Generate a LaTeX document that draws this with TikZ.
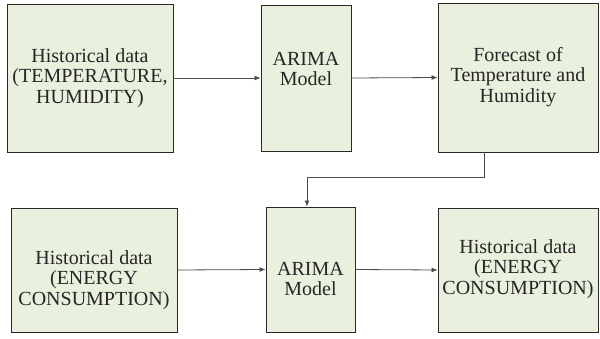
\documentclass[tikz,border=0pt]{standalone}
\usepackage{fontspec}
\setmainfont{Liberation Serif}
\newfontfamily\boxfont{Liberation Serif}
\usetikzlibrary{arrows.meta}
\definecolor{boxfill}{RGB}{233,240,222}
\definecolor{edge}{RGB}{40,40,40}
\begin{document}
\begin{tikzpicture}[x=1pt,y=-1pt,
  box/.style={draw=edge,line width=0.9pt,fill=boxfill,inner sep=0pt},
  lbl/.style={align=center,inner sep=0pt,
    font=\boxfont\fontsize{20}{20.5}\selectfont,text=black!85},
  conn/.style={draw=black!70,line width=0.8pt,-{Latex[length=6pt,width=5pt]}}]
\useasboundingbox (0,0) rectangle (600,338);
\node[box,minimum width=166pt,minimum height=148pt] (h1) at (90,78) {};
\node[lbl] (h1t) at (90,78) {Historical data\\(TEMPERATURE,\\HUMIDITY)};
\node[box,minimum width=90pt,minimum height=146pt] (a1) at (306,78) {};
\node[lbl] (a1t) at (306,69) {ARIMA\\Model};
\node[box,minimum width=160pt,minimum height=149pt] (f1) at (518,77.5) {};
\node[lbl] (f1t) at (518,77) {Forecast of\\Temperature and\\Humidity};
\node[box,minimum width=166pt,minimum height=124pt] (h2) at (94,270) {};
\node[lbl] (h2t) at (94,280) {Historical data\\(ENERGY\\CONSUMPTION)};
\node[box,minimum width=89pt,minimum height=125pt] (a2) at (310.5,269.5) {};
\node[lbl] (a2t) at (310.5,279) {ARIMA\\Model};
\node[box,minimum width=160pt,minimum height=124pt] (o2) at (518,270) {};
\node[lbl] (o2t) at (518,269) {Historical data\\(ENERGY\\CONSUMPTION)};
\coordinate (c1) at (484,177);
\coordinate (c2) at (307,177);
\draw[conn] (h1.east) -- (a1.west);
\draw[conn] (a1.east) -- (f1.west);
\draw[conn] (f1.south -| c1) -- (c1) -- (c2) -- (c2 |- a2.north);
\draw[conn] (h2.east) -- (a2.west);
\draw[conn] (a2.east) -- (o2.west);
\end{tikzpicture}
\end{document}
